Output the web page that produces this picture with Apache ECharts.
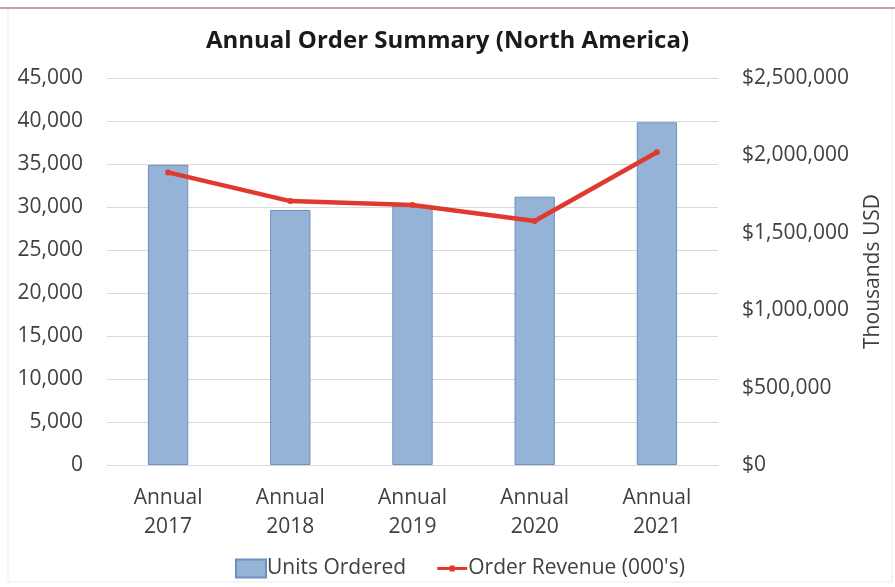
<!DOCTYPE html>
<html>
<head>
<meta charset="utf-8">
<script src="https://cdn.jsdelivr.net/npm/echarts@6/dist/echarts.min.js"></script>
<style>
  html, body { margin: 0; padding: 0; background: #ffffff; }
  #chart { width: 895px; height: 587px; }
</style>
</head>
<body>
<div id="chart"></div>
<script>
// Annual order volume and revenue, North America
const categories = ['Annual\n2017', 'Annual\n2018', 'Annual\n2019', 'Annual\n2020', 'Annual\n2021'];
const unitsOrdered = [34900, 29650, 30100, 31200, 39850];
const orderRevenue = [1890000, 1705000, 1680000, 1576000, 2020000];
const unitTicks = [0, 5000, 10000, 15000, 20000, 25000, 30000, 35000, 40000, 45000];
const revenueTicks = [0, 500000, 1000000, 1500000, 2000000, 2500000];

const fontFamily = '"Open Sans", "Noto Sans", sans-serif';
const textColor = '#404040';
const labelSize = 21;

const chart = echarts.init(document.getElementById('chart'), null, { renderer: 'canvas' });

chart.setOption({
  backgroundColor: '#ffffff',
  animation: false,
  textStyle: { fontFamily: fontFamily },
  title: {
    text: 'Annual Order Summary (North America)',
    left: 'center',
    top: 24,
    textStyle: { fontFamily: fontFamily, fontSize: 24, fontWeight: 'bold', color: '#1a1a1a' }
  },
  graphic: [
    {
      type: 'rect',
      shape: { x: 8, y: 8, width: 884, height: 574 },
      style: { fill: 'none', stroke: '#ececec', lineWidth: 1 },
      silent: true
    },
    {
      type: 'line',
      shape: { x1: 0, y1: 8, x2: 895, y2: 8 },
      style: { stroke: '#c9a0a2', lineWidth: 2 },
      silent: true
    }
  ],
  grid: { left: 107, right: 177, top: 78, bottom: 122 },
  legend: {
    bottom: 3,
    left: 230,
    itemGap: 31,
    itemWidth: 30,
    itemHeight: 18,
    textStyle: { fontFamily: fontFamily, fontSize: labelSize, color: textColor, padding: [0, 0, 0, -4] },
    data: [
      { name: 'Units Ordered', icon: 'rect' },
      {
        name: "Order Revenue (000's)",
        icon: 'path://M0,7.5 L30,7.5 L30,10.5 L0,10.5 Z M12.5,6 L17.5,6 L17.5,12 L12.5,12 Z'
      }
    ]
  },
  xAxis: {
    type: 'category',
    data: categories,
    axisLine: { show: true, lineStyle: { color: '#d9d9d9', width: 1 } },
    axisTick: { show: false },
    axisLabel: { fontFamily: fontFamily, fontSize: labelSize, color: textColor, lineHeight: 29, margin: 19 }
  },
  yAxis: [
    {
      type: 'value',
      min: unitTicks[0],
      max: unitTicks[unitTicks.length - 1],
      interval: unitTicks[1] - unitTicks[0],
      axisLine: { show: false },
      axisTick: { show: false },
      splitLine: { lineStyle: { color: '#d9d9d9', width: 1 } },
      axisLabel: {
        fontFamily: fontFamily, fontSize: labelSize, color: textColor, margin: 24,
        formatter: v => v.toLocaleString('en-US')
      }
    },
    {
      type: 'value',
      min: revenueTicks[0],
      max: revenueTicks[revenueTicks.length - 1],
      interval: revenueTicks[1] - revenueTicks[0],
      name: 'Thousands USD',
      nameLocation: 'middle',
      nameRotate: 90,
      nameGap: 145,
      nameTextStyle: { fontFamily: fontFamily, fontSize: labelSize, color: textColor },
      axisLine: { show: false },
      axisTick: { show: false },
      splitLine: { show: false },
      axisLabel: {
        fontFamily: fontFamily, fontSize: labelSize, color: textColor, margin: 24,
        formatter: v => '$' + v.toLocaleString('en-US')
      }
    }
  ],
  series: [
    {
      name: 'Units Ordered',
      type: 'bar',
      yAxisIndex: 0,
      data: unitsOrdered,
      barWidth: '33%',
      itemStyle: { color: '#95b3d7', borderColor: '#6f8fbf', borderWidth: 1 }
    },
    {
      name: "Order Revenue (000's)",
      type: 'line',
      yAxisIndex: 1,
      data: orderRevenue,
      symbol: 'circle',
      symbolSize: 6,
      lineStyle: { color: '#e03a2f', width: 4.5 },
      itemStyle: { color: '#e03a2f' }
    }
  ]
});
</script>
</body>
</html>
